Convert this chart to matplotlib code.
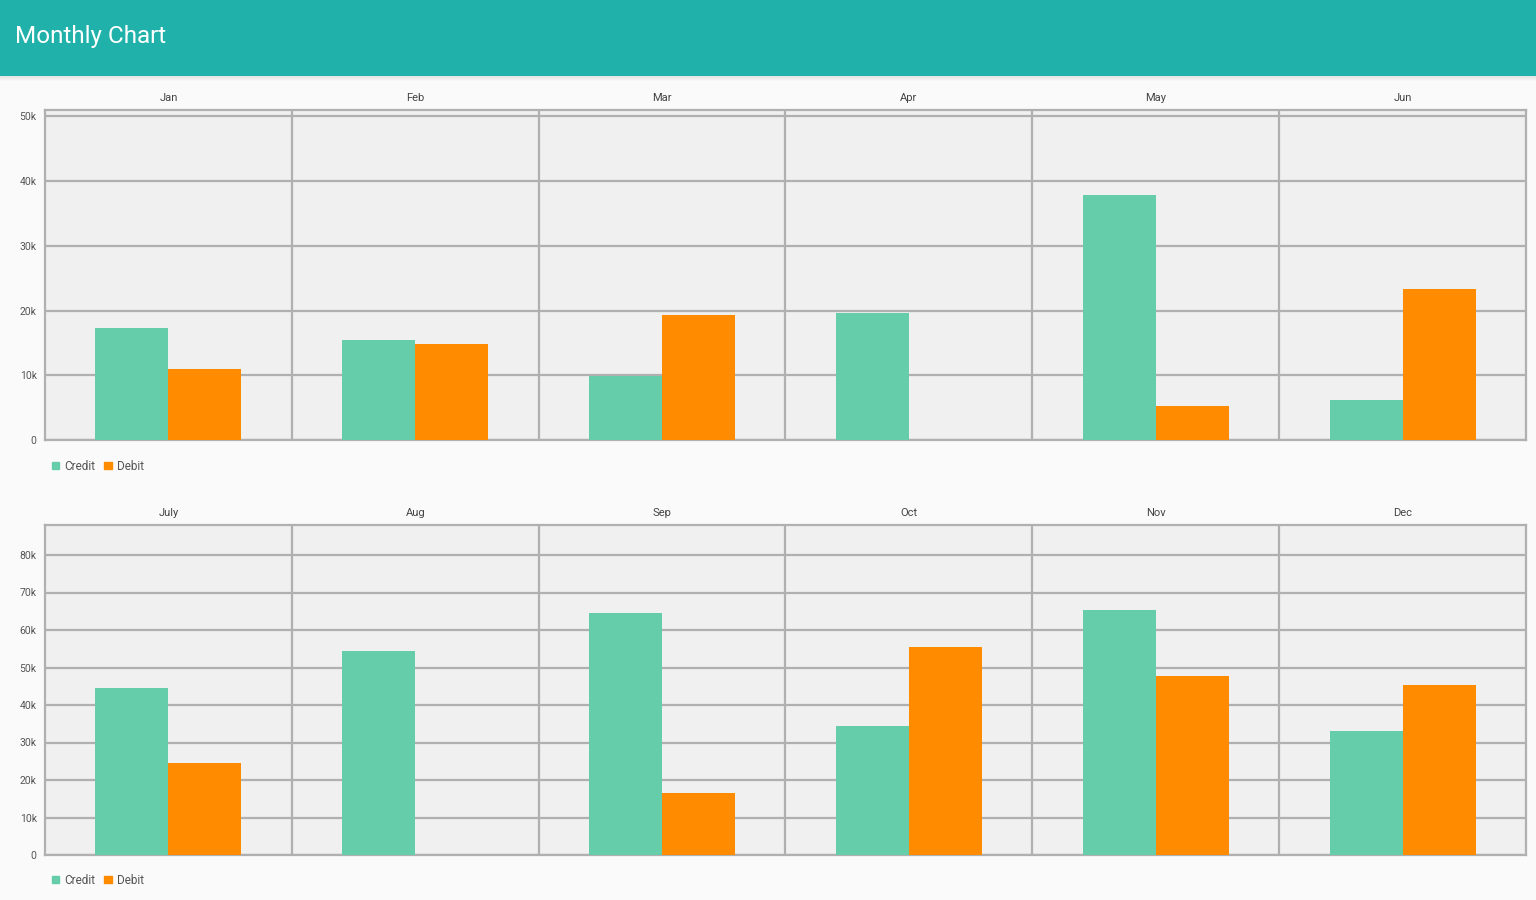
import matplotlib
matplotlib.use("Agg")
import matplotlib.pyplot as plt
from matplotlib.patches import Patch, Rectangle
from matplotlib.ticker import FuncFormatter
import numpy as np

plt.rcParams['font.family'] = ['Roboto', 'DejaVu Sans']

months_top = ["Jan", "Feb", "Mar", "Apr", "May", "Jun"]
credit_top = [17300, 15400, 9900, 19600, 37800, 6200]
debit_top = [11000, 14800, 19300, 0, 5200, 23300]

months_bottom = ["July", "Aug", "Sep", "Oct", "Nov", "Dec"]
credit_bottom = [44500, 54400, 64500, 34400, 65300, 33100]
debit_bottom = [24500, 0, 16500, 55500, 47700, 45300]

yticks_top = [0, 10000, 20000, 30000, 40000, 50000]
yticks_bottom = [0, 10000, 20000, 30000, 40000, 50000, 60000, 70000, 80000]

CREDIT = "#66CDAA"
DEBIT = "#FF8C00"
HEADER = "#20B2AA"
GRID = "#B0B0B0"
W, H = 1536, 900

fig = plt.figure(figsize=(W / 100, H / 100), dpi=100)
fig.patch.set_facecolor("#FAFAFA")

# header bar with shadow
for k in range(6):
    fig.patches.append(Rectangle((0, 1 - (76 + k) / H), 1, 1 / H, transform=fig.transFigure,
                                 facecolor="black", alpha=0.10 * (1 - k / 6), edgecolor="none"))
fig.patches.append(Rectangle((0, 1 - 76 / H), 1, 76 / H, transform=fig.transFigure,
                             facecolor=HEADER, edgecolor="none"))
fig.text(15 / W, 1 - 37 / H, "Monthly Chart", color="white", fontsize=17.5,
         va="center", ha="left")


def kfmt(v, _):
    return "0" if v == 0 else f"{int(v / 1000)}k"


def panel(top_px, zero_px, months, credit, debit, yticks, ymax, legend_y):
    left, right = 45, 1526
    ax = fig.add_axes([left / W, 1 - zero_px / H, (right - left) / W, (zero_px - top_px) / H])
    ax.set_facecolor("#F0F0F0")
    x = np.arange(len(months))
    ax.bar(x - 0.148, credit, width=0.296, color=CREDIT, zorder=3)
    ax.bar(x + 0.148, debit, width=0.296, color=DEBIT, zorder=3)
    ax.set_xlim(-0.5, len(months) - 0.5)
    ax.set_ylim(0, ymax)
    ax.set_yticks(yticks)
    ax.yaxis.set_major_formatter(FuncFormatter(kfmt))
    ax.yaxis.grid(True, color=GRID, linewidth=1.6, zorder=1)
    for xv in np.arange(0.5, len(months) - 0.5, 1):
        ax.axvline(xv, color=GRID, linewidth=1.6, zorder=1)
    ax.xaxis.tick_top()
    ax.set_xticks(x)
    ax.set_xticklabels(months)
    ax.tick_params(axis="x", length=0, pad=5, labelsize=8, labelcolor="#444444")
    ax.tick_params(axis="y", length=0, pad=6, labelsize=7.5, labelcolor="#555555")
    for s in ax.spines.values():
        s.set_color(GRID)
        s.set_linewidth(1.6)
    ax.legend(handles=[Patch(color=CREDIT, label="Credit"), Patch(color=DEBIT, label="Debit")],
              loc="center left", bbox_to_anchor=(41 / W, 1 - legend_y / H),
              bbox_transform=fig.transFigure, ncol=2, frameon=False,
              handlelength=0.6, handleheight=0.6, handletextpad=0.45,
              columnspacing=0.8, fontsize=8.5, labelcolor="#555555")
    return ax


panel(110, 440, months_top, credit_top, debit_top, yticks_top, 51000, 466)
panel(525, 855, months_bottom, credit_bottom, debit_bottom, yticks_bottom, 88000, 880)

fig.savefig("out.png", dpi=100, facecolor=fig.get_facecolor())
